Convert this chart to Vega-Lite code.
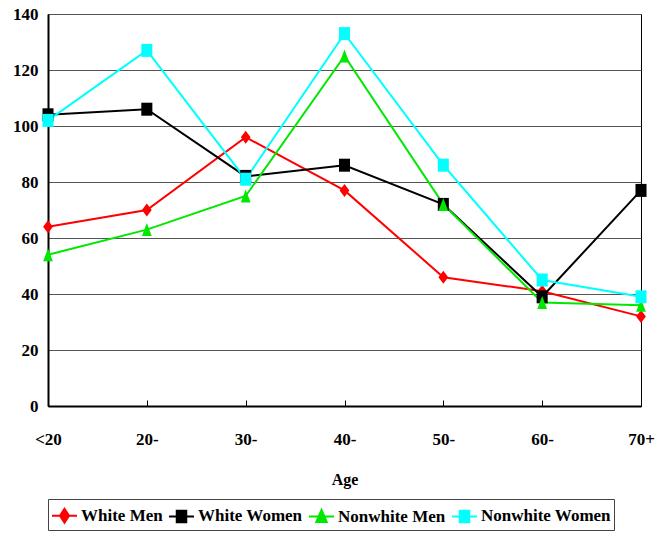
{
  "$schema": "https://vega.github.io/schema/vega-lite/v6.json",
  "width": 593,
  "height": 392,
  "autosize": {"type": "none"},
  "padding": {"left": 48, "top": 14, "right": 17, "bottom": 128},
  "background": "#ffffff",
  "config": {
    "font": "Liberation Serif",
    "view": {"stroke": "#000000", "strokeWidth": 1}
  },
  "data": {
    "values": [
      {"age": "<20", "group": "White Men", "rate": 64},
      {"age": "20-", "group": "White Men", "rate": 70},
      {"age": "30-", "group": "White Men", "rate": 96},
      {"age": "40-", "group": "White Men", "rate": 77},
      {"age": "50-", "group": "White Men", "rate": 46},
      {"age": "60-", "group": "White Men", "rate": 41},
      {"age": "70+", "group": "White Men", "rate": 32},
      {"age": "<20", "group": "White Women", "rate": 104},
      {"age": "20-", "group": "White Women", "rate": 106},
      {"age": "30-", "group": "White Women", "rate": 82},
      {"age": "40-", "group": "White Women", "rate": 86},
      {"age": "50-", "group": "White Women", "rate": 72},
      {"age": "60-", "group": "White Women", "rate": 39},
      {"age": "70+", "group": "White Women", "rate": 77},
      {"age": "<20", "group": "Nonwhite Men", "rate": 54},
      {"age": "20-", "group": "Nonwhite Men", "rate": 63},
      {"age": "30-", "group": "Nonwhite Men", "rate": 75},
      {"age": "40-", "group": "Nonwhite Men", "rate": 125},
      {"age": "50-", "group": "Nonwhite Men", "rate": 72},
      {"age": "60-", "group": "Nonwhite Men", "rate": 37},
      {"age": "70+", "group": "Nonwhite Men", "rate": 36},
      {"age": "<20", "group": "Nonwhite Women", "rate": 102},
      {"age": "20-", "group": "Nonwhite Women", "rate": 127},
      {"age": "30-", "group": "Nonwhite Women", "rate": 81},
      {"age": "40-", "group": "Nonwhite Women", "rate": 133},
      {"age": "50-", "group": "Nonwhite Women", "rate": 86},
      {"age": "60-", "group": "Nonwhite Women", "rate": 45},
      {"age": "70+", "group": "Nonwhite Women", "rate": 39}
    ]
  },
  "encoding": {
    "x": {
      "field": "age",
      "type": "ordinal",
      "scale": {"type": "point", "padding": 0, "domain": ["<20", "20-", "30-", "40-", "50-", "60-", "70+"]},
      "axis": {
        "title": "Age",
        "titleFont": "Liberation Serif",
        "titleFontSize": 16,
        "titleFontWeight": "bold",
        "titleColor": "#000000",
        "titlePadding": 24,
        "labelAngle": 0,
        "labelFont": "Liberation Serif",
        "labelFontSize": 17,
        "labelFontWeight": "bold",
        "labelColor": "#000000",
        "labelPadding": 31,
        "domainColor": "#000000",
        "domainWidth": 2,
        "tickColor": "#000000",
        "tickSize": -6,
        "grid": false
      }
    },
    "y": {
      "field": "rate",
      "type": "quantitative",
      "scale": {"domain": [0, 140]},
      "axis": {
        "title": null,
        "values": [0, 20, 40, 60, 80, 100, 120, 140],
        "labelFont": "Liberation Serif",
        "labelFontSize": 17,
        "labelFontWeight": "bold",
        "labelColor": "#000000",
        "labelPadding": 10,
        "ticks": false,
        "domainColor": "#000000",
        "domainWidth": 2,
        "grid": true,
        "gridColor": "#555555",
        "gridOpacity": 1,
        "gridWidth": 1
      }
    },
    "color": {
      "field": "group",
      "type": "nominal",
      "scale": {
        "domain": ["White Men", "White Women", "Nonwhite Men", "Nonwhite Women"],
        "range": ["#ff0000", "#000000", "#00e800", "#00ffff"]
      },
      "legend": {
        "title": null,
        "orient": "none",
        "legendX": 0,
        "legendY": 485,
        "direction": "horizontal",
        "labelFont": "Liberation Serif",
        "labelFontSize": 17,
        "labelFontWeight": "bold",
        "labelColor": "#000000",
        "labelOffset": 3,
        "columnPadding": 2,
        "padding": 3,
        "strokeColor": "#444444",
        "fillColor": "#ffffff",
        "symbolSize": 625,
        "symbolStrokeWidth": 2,
        "encode": {
          "symbols": {
            "update": {
              "shape": {"signal": "datum.value === 'White Men' ? 'M-1,0H1M0,-0.56L0.36,0L0,0.56L-0.36,0Z' : datum.value === 'Nonwhite Men' ? 'M-1,0H1M0,-0.52L0.42,0.44H-0.42Z' : 'M-1,0H1M-0.38,-0.46H0.38V0.46H-0.38Z'"},
              "fill": {"scale": "color", "field": "value"},
              "stroke": {"scale": "color", "field": "value"},
              "strokeWidth": {"value": 2},
              "opacity": {"value": 1}
            }
          },
          "labels": {
            "update": {
              "font": {"value": "Liberation Serif"},
              "fontWeight": {"value": "bold"}
            }
          }
        }
      }
    }
  },
  "layer": [
    {"mark": {"type": "line", "strokeWidth": 2}},
    {
      "mark": {
        "type": "point",
        "filled": true,
        "opacity": 1,
        "size": 169,
        "shape": {"expr": "datum.group === 'White Men' ? 'M0,-1L0.75,0L0,1L-0.75,0Z' : datum.group === 'Nonwhite Men' ? 'M0,-1L0.75,1H-0.75Z' : 'M-0.85,-1H0.85V1H-0.85Z'"}
      }
    }
  ]
}
